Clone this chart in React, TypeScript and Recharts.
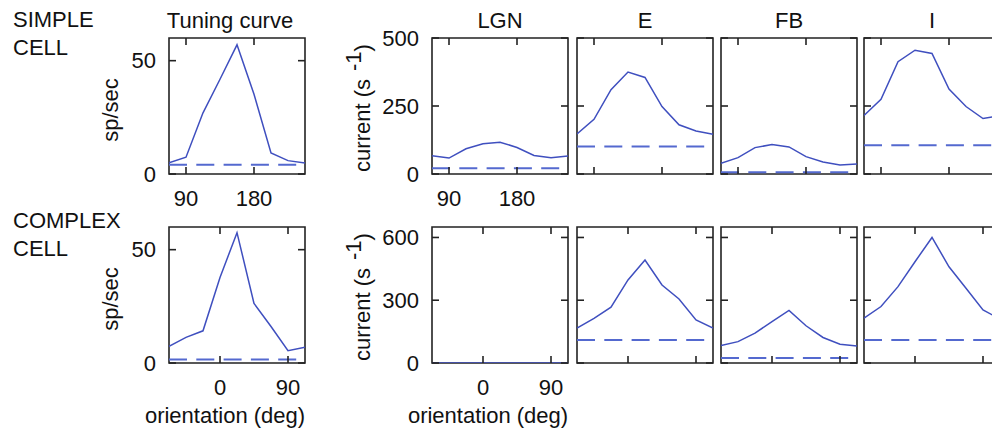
import React from 'react';
import { LineChart, Line, XAxis, YAxis, ReferenceLine, ReferenceArea, Label } from 'recharts';

// orientation samples (deg)
const simpleAngles = [67.5, 90, 112.5, 135, 157.5, 180, 202.5, 225, 247.5];
const complexAngles = [-67.5, -45, -22.5, 0, 22.5, 45, 67.5, 90, 112.5];

// simple cell: tuning curve (sp/sec) and input currents (1/s)
const simpleRate = [4.9, 7.4, 27, 41.8, 57, 35.2, 9.3, 5.9, 4.9];
const simpleLGN = [67, 58.5, 92.7, 111, 117, 97.6, 68, 60, 66];
const simpleE = [147, 201, 310, 375, 355, 248, 181, 158, 146];
const simpleFB = [39, 60, 97, 108, 99.5, 64, 44, 33, 37];
const simpleI = [215, 275, 413, 455, 443, 312, 248, 204, 214];

// complex cell
const complexRate = [7.3, 11.3, 14.2, 37.7, 57.5, 26.3, 16.1, 5.4, 7.0];
const complexLGN = [0, 0, 0, 0, 0, 0, 0, 0, 0];
const complexE = [167, 213, 267, 397, 492, 373, 306, 206, 167];
const complexFB = [83, 102, 143, 198, 251, 178, 122, 90, 81];
const complexI = [214, 270, 365, 484, 600, 460, 357, 254, 210];

// dashed baselines: tuning, LGN, E, FB, I
const simpleBase = [4.1, 20.7, 101, 6, 106];
const complexBase = [1.5, null, 110, 24, 110];

const columnTitles = ['Tuning curve', 'LGN', 'E', 'FB', 'I'];
const simpleXTicks = [90, 180];
const complexXTicks = [0, 90];
const rateTicks = [0, 50];
const simpleCurrentTicks = [0, 250, 500];
const complexCurrentTicks = [0, 300, 600];

const FONT = '"Liberation Sans", Arial, Helvetica, sans-serif';
const FS = 22;
const BOX = 136;
const LW = 100;
const TM = 40;
const RM = 4;
const BH = 70;
const TICK = 7;
const LINE = '#3f4fbf';
const DASH = '#5469cf';
const AXIS = '#222';
const TXT = '#111';

// inward tick marks on bottom + top edges, label under the box
const makeXTick = (showLabel: boolean) => (props: any) => {
  const cx = props.payload?.coordinate ?? props.x;
  return (
    <g>
      <line x1={cx} x2={cx} y1={TM + BOX} y2={TM + BOX - TICK} stroke={AXIS} strokeWidth={1.6} />
      <line x1={cx} x2={cx} y1={TM} y2={TM + TICK} stroke={AXIS} strokeWidth={1.6} />
      {showLabel && (
        <text x={cx} y={TM + BOX + 31.5} textAnchor="middle" fontSize={FS} fontFamily={FONT} fill={TXT}>
          {props.payload.value}
        </text>
      )}
    </g>
  );
};

// inward tick marks on left + right edges, label left of the box
const makeYTick = (showLabel: boolean) => (props: any) => {
  const cy = props.payload?.coordinate ?? props.y;
  return (
    <g>
      <line x1={LW} x2={LW + TICK} y1={cy} y2={cy} stroke={AXIS} strokeWidth={1.6} />
      <line x1={LW + BOX} x2={LW + BOX - TICK} y1={cy} y2={cy} stroke={AXIS} strokeWidth={1.6} />
      {showLabel && (
        <text x={LW - 13} y={cy + 7.8} textAnchor="end" fontSize={FS} fontFamily={FONT} fill={TXT}>
          {props.payload.value}
        </text>
      )}
    </g>
  );
};

type PanelProps = {
  left: number;
  top: number;
  angles: number[];
  values: number[];
  base: number | null;
  xDomain: [number, number];
  xTicks: number[];
  yDomain: [number, number];
  yTicks: number[];
  labels: boolean;
  yLabel?: 'rate' | 'current';
  xLabel?: boolean;
  title?: string;
  titleShift?: number;
};

const Panel = (p: PanelProps) => {
  const data = p.angles.map((a, i) => ({ angle: a, value: p.values[i] }));

  const titleContent = () => (
    <text x={LW + BOX / 2 + (p.titleShift || 0)} y={TM - 10.5} textAnchor="middle"
      fontSize={FS} fontFamily={FONT} fill={TXT}>{p.title}</text>
  );

  const yLabelContent = () => {
    if (p.yLabel === 'rate') {
      const x = LW - 51, y = TM + BOX / 2 + 4;
      return (
        <text x={x} y={y} transform={`rotate(-90, ${x}, ${y})`} textAnchor="middle"
          fontSize={FS} fontFamily={FONT} fill={TXT}>sp/sec</text>
      );
    }
    const x = LW - 62, y = TM + BOX / 2 + 2;
    return (
      <text x={x} y={y} transform={`rotate(-90, ${x}, ${y})`} textAnchor="middle"
        fontSize={FS} fontFamily={FONT} fill={TXT}>
        current (s<tspan dx={8} dy={-9}>-1</tspan><tspan dy={9}>)</tspan>
      </text>
    );
  };

  const xLabelContent = () => (
    <text x={LW + BOX / 2 - 12} y={TM + BOX + 60} textAnchor="middle"
      fontSize={FS} fontFamily={FONT} fill={TXT}>orientation (deg)</text>
  );

  return (
    <div style={{ position: 'absolute', left: p.left - LW, top: p.top - TM }}>
      <LineChart width={LW + BOX + RM} height={TM + BOX + BH} data={data}
        margin={{ top: TM, right: RM, left: 0, bottom: 0 }}>
        <XAxis dataKey="angle" type="number" domain={p.xDomain} ticks={p.xTicks} interval={0}
          orientation="bottom" height={BH} axisLine={false} tickLine={false} tickSize={0}
          tick={makeXTick(p.labels)} allowDataOverflow>
          {p.xLabel && <Label content={xLabelContent} />}
        </XAxis>
        <YAxis type="number" domain={p.yDomain} ticks={p.yTicks} interval={0} orientation="left"
          width={LW} axisLine={false} tickLine={false} tickSize={0}
          tick={makeYTick(p.labels)} allowDataOverflow>
          {p.yLabel && <Label content={yLabelContent} />}
          {p.title && <Label content={titleContent} />}
        </YAxis>
        <ReferenceArea x1={p.xDomain[0]} x2={p.xDomain[1]} y1={p.yDomain[0]} y2={p.yDomain[1]}
          fill="none" fillOpacity={0} stroke={AXIS} strokeWidth={1.6} />
        {p.base !== null && (
          <ReferenceLine y={p.base} stroke={DASH} strokeWidth={2} strokeDasharray="18 9.3" />
        )}
        <Line dataKey="value" type="linear" stroke={LINE} strokeWidth={1.5}
          dot={false} activeDot={false} isAnimationActive={false} />
      </LineChart>
    </div>
  );
};

const columnsX = [169, 432.3, 577.3, 720.7, 864];
const rowsY = [38.3, 227.3];

const simpleSeries = [simpleRate, simpleLGN, simpleE, simpleFB, simpleI];
const complexSeries = [complexRate, complexLGN, complexE, complexFB, complexI];

const rowLabel: React.CSSProperties = {
  position: 'absolute', left: 13, fontFamily: FONT, fontSize: FS, lineHeight: '28px', color: TXT,
};

export default function App() {
  return (
    <div style={{ position: 'absolute', left: 0, top: 0, width: 992, height: 431, overflow: 'hidden', background: '#fff' }}>
      <div style={{ ...rowLabel, top: 6 }}>SIMPLE<br />CELL</div>
      <div style={{ ...rowLabel, top: 207 }}>COMPLEX<br />CELL</div>
      {simpleSeries.map((vals, i) => (
        <Panel key={`s${i}`} left={columnsX[i]} top={rowsY[0]} angles={simpleAngles} values={vals}
          base={simpleBase[i]} xDomain={[67.5, 247.5]} xTicks={simpleXTicks}
          yDomain={i === 0 ? [0, 60] : [0, 500]} yTicks={i === 0 ? rateTicks : simpleCurrentTicks}
          labels={i < 2} yLabel={i === 0 ? 'rate' : i === 1 ? 'current' : undefined}
          title={columnTitles[i]} titleShift={i === 0 ? -7 : 0} />
      ))}
      {complexSeries.map((vals, i) => (
        <Panel key={`c${i}`} left={columnsX[i]} top={rowsY[1]} angles={complexAngles} values={vals}
          base={complexBase[i]} xDomain={[-67.5, 112.5]} xTicks={complexXTicks}
          yDomain={i === 0 ? [0, 60] : [0, 650]} yTicks={i === 0 ? rateTicks : complexCurrentTicks}
          labels={i < 2} yLabel={i === 0 ? 'rate' : i === 1 ? 'current' : undefined}
          xLabel={i < 2} />
      ))}
    </div>
  );
}
